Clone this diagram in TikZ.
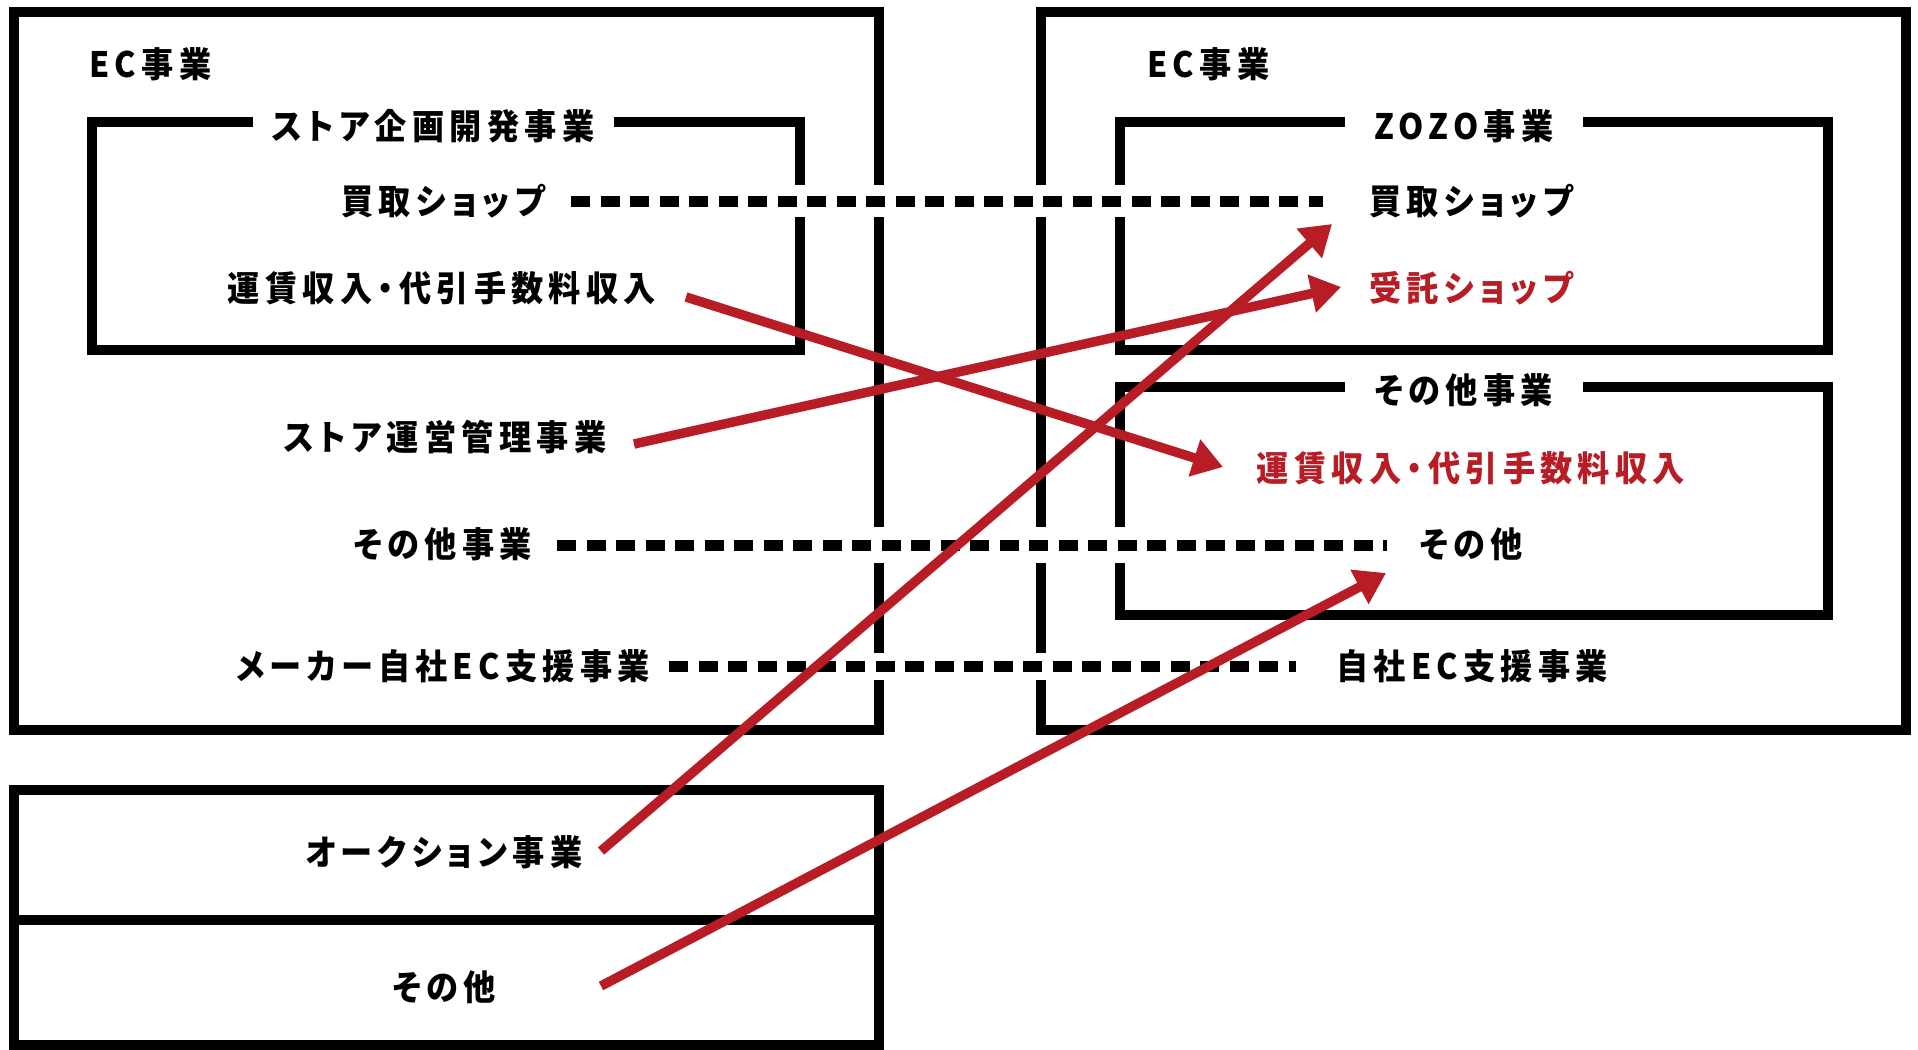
\documentclass[tikz,border=0pt]{standalone}
\usepackage{fontspec}
\newfontfamily\jp[LetterSpace=15, FakeStretch=0.92, RawFeature={+palt}]{Noto Sans CJK JP}
\usetikzlibrary{arrows.meta}
\definecolor{zred}{RGB}{184,28,36}
\begin{document}
\begin{tikzpicture}[x=0.5pt,y=-0.5pt,
  boxline/.style={line width=5.25pt},
  lbl/.style={font=\jp\bfseries\fontsize{17.5pt}{19pt}\selectfont, inner sep=0pt},
  redlbl/.style={lbl, text=zred},
  ttl/.style={lbl, fill=white},
  dots/.style={line width=5.5pt, dash pattern=on 9.5pt off 5.25pt},
  gapline/.style={draw=white, line width=#1},
  rarrow/.style={draw=zred, line width=4.75pt, -{Triangle[length=15pt,width=18.5pt]}}
]
\useasboundingbox (0,0) rectangle (1918,1050);
\fill[white] (0,0) rectangle (1918,1050);

% boxes
\draw[boxline] (14,12) rectangle (879,730);
\draw[boxline] (92,122) rectangle (800,350);
\draw[boxline] (1041,12) rectangle (1906,730);
\draw[boxline] (1120,122) rectangle (1828,350);
\draw[boxline] (1120,387) rectangle (1828,615);
\draw[boxline] (14,790) rectangle (879,1045);
\draw[boxline] (14,920) -- (879,920);

% titles
\node[lbl, anchor=west] (lec) at (89,64) {EC事業};
\node[lbl, anchor=west] (rec) at (1147,64) {EC事業};
\node[ttl, minimum width=180.5pt] (lt) at (433,126) {ストア企画開発事業};
\node[ttl, minimum width=119pt] (rt1) at (1464,126) {ZOZO事業};
\node[ttl, minimum width=119pt] (rt2) at (1464,390) {その他事業};

% left labels
\node[lbl] (l1) at (443,201) {買取ショップ};
\node[lbl] (l2) at (442,288) {運賃収入・代引手数料収入};
\node[lbl] (l3) at (445,437) {ストア運営管理事業};
\node[lbl] (l4) at (443,544) {その他事業};
\node[lbl] (l5) at (443,666) {メーカー自社EC支援事業};
\node[lbl] (l6) at (444,852) {オークション事業};
\node[lbl] (l7) at (444,987) {その他};

% right labels
\node[lbl] (r1) at (1471,201) {買取ショップ};
\node[redlbl] (r2) at (1471,288) {受託ショップ};
\node[redlbl] (r3) at (1471,468) {運賃収入・代引手数料収入};
\node[lbl] (r4) at (1471,544) {その他};
\node[lbl] (r5) at (1472,666) {自社EC支援事業};

% dotted connectors
\coordinate (d1s) at (571,201); \coordinate (d1e) at (1323,201);
\coordinate (d2s) at (557,545); \coordinate (d2e) at (1387,545);
\coordinate (d3s) at (669,666); \coordinate (d3e) at (1296,666);
\draw[gapline=16pt] (d1s) -- (d1e);
\draw[gapline=18pt] (d2s) -- (d2e);
\draw[gapline=13.5pt] (d3s) -- (d3e);
\draw[dots] (d1s) -- (d1e);
\draw[dots] (d2s) -- (d2e);
\draw[dots] (d3s) -- (d3e);

% red arrows
\coordinate (a1s) at (686,297); \coordinate (a1e) at (1223,467);
\coordinate (a2s) at (634,444); \coordinate (a2e) at (1341,287);
\coordinate (a3s) at (601,851); \coordinate (a3e) at (1332,224);
\coordinate (a4s) at (601,986); \coordinate (a4e) at (1386,573);
\draw[rarrow] (a1s) -- (a1e);
\draw[rarrow] (a2s) -- (a2e);
\draw[rarrow] (a3s) -- (a3e);
\draw[rarrow] (a4s) -- (a4e);
\end{tikzpicture}
\end{document}
